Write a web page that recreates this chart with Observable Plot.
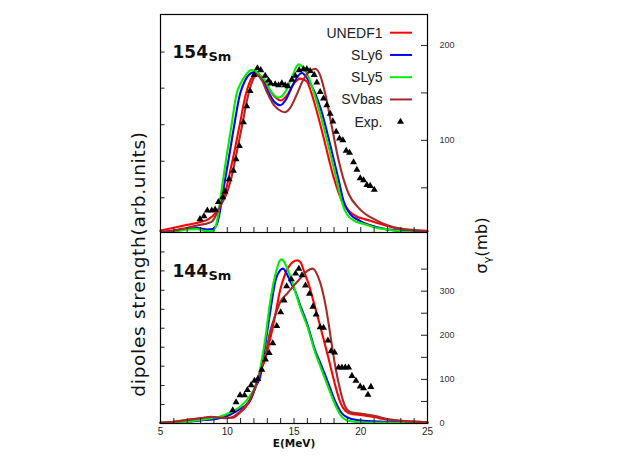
<!DOCTYPE html>
<html><head><meta charset="utf-8">
<script src="https://cdn.jsdelivr.net/npm/d3@7"></script>
<script src="https://cdn.jsdelivr.net/npm/@observablehq/plot@0.6"></script>
<style>
html,body{margin:0;padding:0;background:#fff;}
#wrap{position:relative;width:622px;height:467px;overflow:hidden;font-family:"Liberation Sans",Arial,sans-serif;}
#wrap > svg{display:block;}
#overlay{position:absolute;left:0;top:0;pointer-events:none;}
</style></head><body><div id="wrap"></div>
<script>
// ---------- data (E in MeV, cross section in mb) ----------
const seriesNames = ["UNEDF1", "SLy6", "SLy5", "SVbas"];
const seriesColors = ["#ff0000", "#0000ff", "#00ee00", "#a52a2a"];
const expName = "Exp.";

const top154UNEDF1 = [[5,5],[6,8],[7,11],[8,14],[8.6,17],[9.1,23],[9.5,32],[9.84,44],[10.1,60],[10.4,79],[10.9,114],[11.4,149],[11.8,165],[12.2,170],[12.6,166],[13.0,157],[13.5,147],[14.0,142],[14.5,148],[15.0,160],[15.5,165],[15.96,162],[16.3,150],[16.7,131],[17.34,96],[17.97,61],[18.6,36],[19.1,26],[19.8,19],[20.3,17],[21.1,13.5],[22.5,8],[25,3.5]];
const top154SLy6 = [[5,3],[6,5],[7,7],[7.8,7.5],[8.5,6],[8.9,6.5],[9.2,11],[9.4,21],[9.66,44],[10.09,79],[10.5,114],[10.96,149],[11.3,162],[11.8,171],[12.1,172],[12.5,167],[13.0,153],[13.5,141],[13.97,137],[14.4,143],[14.9,158],[15.3,168],[15.6,171],[16.0,165],[16.6,149],[17.05,131],[17.7,96],[18.3,61],[18.7,36.5],[19.2,22.4],[19.9,15.5],[20.6,11],[21.5,7.5],[23,4.5],[25,3]];
const top154SLy5 = [[5,2.5],[6,4],[7,6],[7.7,6.5],[8.4,4.5],[8.9,4.5],[9.1,8],[9.3,20],[9.54,44],[9.9,79],[10.3,114],[10.7,149],[11.0,160],[11.34,168],[11.8,174],[12.1,173],[12.5,168],[12.84,163],[13.3,151],[13.84,145],[14.3,150],[14.8,165],[15.34,180],[15.6,178],[16.1,166],[16.5,150],[16.9,131],[17.55,96],[18.15,61],[18.55,36.5],[18.95,22.4],[19.55,15],[20.2,12],[21,8.5],[22,6],[23,4],[25,2.5]];
const top154SVbas = [[5,3],[6,5],[7,8],[8,11],[8.5,12.5],[8.9,15],[9.25,24],[9.6,34],[9.96,44],[10.3,60],[10.59,79],[11.09,114],[11.59,149],[11.9,163],[12.2,169],[12.6,163],[13.0,150],[13.5,137],[14.0,131],[14.3,129.6],[14.7,134],[15.2,148],[15.7,164],[16.2,173],[16.6,175.4],[17.0,167],[17.34,149],[17.84,114],[18.34,79],[19.1,43.5],[19.8,29.4],[20.34,22.4],[21,17],[22,10.5],[23,7],[25,4.8]];
const top154Exp = [[7.96,17],[8.26,20],[8.51,26],[8.84,26],[9.09,27],[9.34,35],[9.66,40],[9.84,46],[10.14,59],[10.46,68],[10.66,80],[10.91,94],[11.21,119],[11.46,136],[11.71,152],[12.01,169],[12.26,176],[12.51,174],[12.84,168],[13.09,163],[13.26,160],[13.59,159],[13.84,158],[14.09,160],[14.34,158],[14.54,157],[14.84,164],[15.09,168],[15.39,174],[15.71,175],[15.96,175],[16.21,173],[16.51,169],[16.71,161],[16.96,151],[17.21,144],[17.46,137],[17.71,128],[17.91,120],[18.16,109],[18.41,102],[18.66,100],[18.91,89],[19.16,87],[19.46,77],[19.71,69],[19.96,60],[20.21,58],[20.46,53],[20.71,52],[21.01,48]];

const bot144UNEDF1 = [[5,2],[6,4],[7,8],[8,12],[9,14],[9.8,12],[10.4,13],[10.96,25],[11.4,38],[11.71,52],[12.21,93],[12.46,116],[12.84,146],[13.21,191],[13.59,245],[13.96,302],[14.3,336],[14.6,355],[14.9,366],[15.26,370],[15.5,365],[15.75,345],[16.15,311],[16.52,270],[16.9,228],[17.34,177],[17.72,131],[18.09,86],[18.47,48],[18.84,29],[19.34,21.4],[20.1,19],[21.1,14],[21.7,10],[23,6],[25,3]];
const bot144SLy6 = [[5,1],[6,2],[7,4],[8,7],[9,10],[9.6,13],[10.2,20],[10.96,33],[11.71,52],[12.21,88],[12.46,105],[12.84,177],[13.21,252],[13.59,321],[13.96,347],[14.17,351],[14.45,340],[14.75,320],[15.09,300],[15.5,265],[16.0,225],[16.59,165],[17.0,135],[17.59,90],[18.09,50],[18.59,23],[19.0,14],[19.7,8],[21.7,4],[25,2]];
const bot144SLy5 = [[5,1],[6,2],[7,4],[8,8],[9,13],[9.6,17],[10.2,25],[10.96,38],[11.71,63],[12.21,92],[12.46,123],[12.84,191],[13.21,275],[13.59,336],[13.96,370],[14.09,372],[14.4,358],[14.7,335],[15.09,299],[15.5,260],[16.0,220],[16.59,160],[17.0,127],[17.59,80],[18.09,42],[18.59,15],[19.0,7],[20,3],[21,2],[25,1]];
const bot144SVbas = [[5,2],[6,4],[7,8],[8,12],[8.8,15],[9.5,13],[10.2,13],[10.96,27],[11.71,55],[12.21,93],[12.46,116],[12.84,154],[13.21,208],[13.59,245],[13.96,275],[14.5,295],[15.0,313],[15.5,330],[16.0,346],[16.4,351],[16.8,333],[17.1,305],[17.4,262],[17.65,215],[17.9,165],[18.1,128],[18.47,75],[18.84,38],[19.2,26],[20.1,22],[21.1,17],[22,10],[23,6],[25,3]];
const bot144Exp = [[10.41,30],[10.66,48],[10.96,64],[11.29,64],[11.51,76],[11.79,87],[12.04,97],[12.29,101],[12.59,122],[12.86,145],[13.14,160],[13.41,182],[13.71,221],[14.0,252],[14.26,279],[14.45,311],[14.8,327],[15.12,340],[15.36,351],[15.6,336],[15.86,313],[16.16,294],[16.42,265],[16.66,247],[16.96,218],[17.21,217],[17.54,188],[17.78,164],[18.04,161],[18.34,127],[18.59,127],[18.84,127],[19.09,127],[19.34,108],[19.64,97],[19.96,84],[20.21,80],[20.54,65],[20.76,83]];

const xMinorTicks = [5,6,7,8,9,10,11,12,13,14,15,16,17,18,19,20,21,22,23,24,25];
const xTickLabels = [5,10,15,20,25];
const topRightTicks = [50,100,150,200];
const topRightLabels = [100,200];
const topLeftTicks = [39.5,78,116.5,155,193];
const botRightTicks = [0,50,100,150,200,250,300,350];
const botRightLabels = [0,100,200,300];
const botLeftTicks = [43,86,130,173,216,259,302,346,389];
const topLabel = ["154","Sm"];
const botLabel = ["144","Sm"];
const xTitle = "E(MeV)";
const yLeftTitle = "dipoles strength(arb.units)";
const yRightTitle = ["σ","γ","(mb)"];

// ---------- layout ----------
const W = 622, ML = 160, MR = 195;
const topSeries = [top154UNEDF1, top154SLy6, top154SLy5, top154SVbas];
const botSeries = [bot144UNEDF1, bot144SLy6, bot144SLy5, bot144SVbas];

function curveMarks(list) {
  return list.map((data, i) => Plot.line(data, {x: d => d[0], y: d => d[1], stroke: seriesColors[i], strokeWidth: 2.1, curve: "monotone-x"}));
}
function nucleusMarks(lbl, dyMain) {
  return [
    Plot.text([lbl[0]], {text: d => d, frameAnchor: "top-left", textAnchor: "start", lineAnchor: "bottom", dx: 12, dy: dyMain, fontSize: 17, fontWeight: "bold", fontFamily: "DejaVu Sans", fill: "#111"}),
    Plot.text([lbl[1]], {text: d => d, frameAnchor: "top-left", textAnchor: "start", lineAnchor: "bottom", dx: 48, dy: dyMain + 3.5, fontSize: 13, fontWeight: "bold", fontFamily: "DejaVu Sans", fill: "#111"})
  ];
}
const blank = () => "";

const topPlot = Plot.plot({
  width: W, height: 232, marginLeft: ML, marginRight: MR, marginTop: 14, marginBottom: 0,
  style: {background: "transparent", fontFamily: "Liberation Sans, Arial, sans-serif"},
  x: {domain: [5, 25]},
  y: {domain: [2.9, 232.6]},
  marks: [
    ...curveMarks(topSeries),
    Plot.dot(top154Exp, {x: d => d[0], y: d => d[1], symbol: "triangle", fill: "black", r: 2.6}),
    Plot.axisX({anchor: "bottom", ticks: xMinorTicks, tickSize: -5, tickFormat: blank, label: null, stroke: "#222"}),
    Plot.axisY({anchor: "left", ticks: topLeftTicks, tickSize: -4.5, tickFormat: blank, label: null, stroke: "#222"}),
    Plot.axisY({anchor: "right", ticks: topRightTicks, tickSize: -7, tickFormat: blank, label: null, stroke: "#222"}),
    Plot.axisY({anchor: "right", ticks: topRightLabels, tickSize: 0, tickPadding: 12, fontSize: 9, fill: "#333", label: null}),
    ...nucleusMarks(topLabel, 43),
    Plot.frame({stroke: "black", strokeWidth: 1.2})
  ]
});

const botPlot = Plot.plot({
  width: W, height: 235, marginLeft: ML, marginRight: MR, marginTop: 0, marginBottom: 44,
  style: {background: "transparent", fontFamily: "Liberation Sans, Arial, sans-serif"},
  x: {domain: [5, 25]},
  y: {domain: [0, 433]},
  marks: [
    ...curveMarks(botSeries),
    Plot.dot(bot144Exp, {x: d => d[0], y: d => d[1], symbol: "triangle", fill: "black", r: 2.6}),
    Plot.axisX({anchor: "bottom", ticks: xMinorTicks, tickSize: -5, tickFormat: blank, label: null, stroke: "#222"}),
    Plot.axisX({anchor: "bottom", ticks: xTickLabels, tickSize: 0, tickPadding: 4, fontSize: 10, fill: "#222", label: null}),
    Plot.axisY({anchor: "left", ticks: botLeftTicks, tickSize: -4.5, tickFormat: blank, label: null, stroke: "#222"}),
    Plot.axisY({anchor: "right", ticks: botRightTicks, tickSize: -7, tickFormat: blank, label: null, stroke: "#222"}),
    Plot.axisY({anchor: "right", ticks: botRightLabels, tickSize: 0, tickPadding: 12, fontSize: 9, fill: "#333", label: null}),
    Plot.text([xTitle], {text: d => d, frameAnchor: "bottom", lineAnchor: "bottom", dy: 23, fontSize: 10.5, fontWeight: "bold", fontFamily: "DejaVu Sans", fill: "#111"}),
    ...nucleusMarks(botLabel, 44),
    Plot.frame({stroke: "black", strokeWidth: 1.2})
  ]
});

const wrap = document.getElementById("wrap");
wrap.appendChild(topPlot);
wrap.appendChild(botPlot);

// ---------- overlay: legend and axis titles ----------
const ov = d3.select(wrap).append("svg").attr("id", "overlay").attr("width", W).attr("height", 467);
const xr = W - MR; // right edge of frame
const legTop = 14;
seriesNames.forEach((name, i) => {
  const y = legTop + 18.7 + i * 22.25;
  ov.append("text").attr("x", xr - 44.5).attr("y", y + 5).attr("text-anchor", "end")
    .attr("font-family", "Liberation Sans, Arial, sans-serif").attr("font-size", 14).attr("fill", "#222").text(name);
  ov.append("line").attr("x1", xr - 37).attr("x2", xr - 15).attr("y1", y).attr("y2", y)
    .attr("stroke", seriesColors[i]).attr("stroke-width", 2);
});
{
  const y = legTop + 18.7 + 4 * 22.25;
  ov.append("text").attr("x", xr - 44.5).attr("y", y + 5).attr("text-anchor", "end")
    .attr("font-family", "Liberation Sans, Arial, sans-serif").attr("font-size", 14).attr("fill", "#222").text(expName);
  ov.append("path").attr("transform", `translate(${xr - 26.5},${y})`)
    .attr("d", d3.symbol(d3.symbolTriangle, 2.6 * 2.6 * Math.PI)()).attr("fill", "black");
}
ov.append("text").attr("transform", "translate(145,264) rotate(-90)").attr("text-anchor", "middle")
  .attr("font-family", "DejaVu Sans").attr("font-size", 18.5).attr("letter-spacing", 0.7).attr("fill", "#111").text(yLeftTitle);
const rt = ov.append("text").attr("transform", "translate(487,245.5) rotate(-90)").attr("text-anchor", "middle")
  .attr("font-family", "DejaVu Sans").attr("font-size", 16.5).attr("fill", "#111");
rt.append("tspan").text(yRightTitle[0]);
rt.append("tspan").attr("font-size", 11).attr("dy", 4).text(yRightTitle[1]);
rt.append("tspan").attr("dy", -4).text(yRightTitle[2]);
</script></body></html>
